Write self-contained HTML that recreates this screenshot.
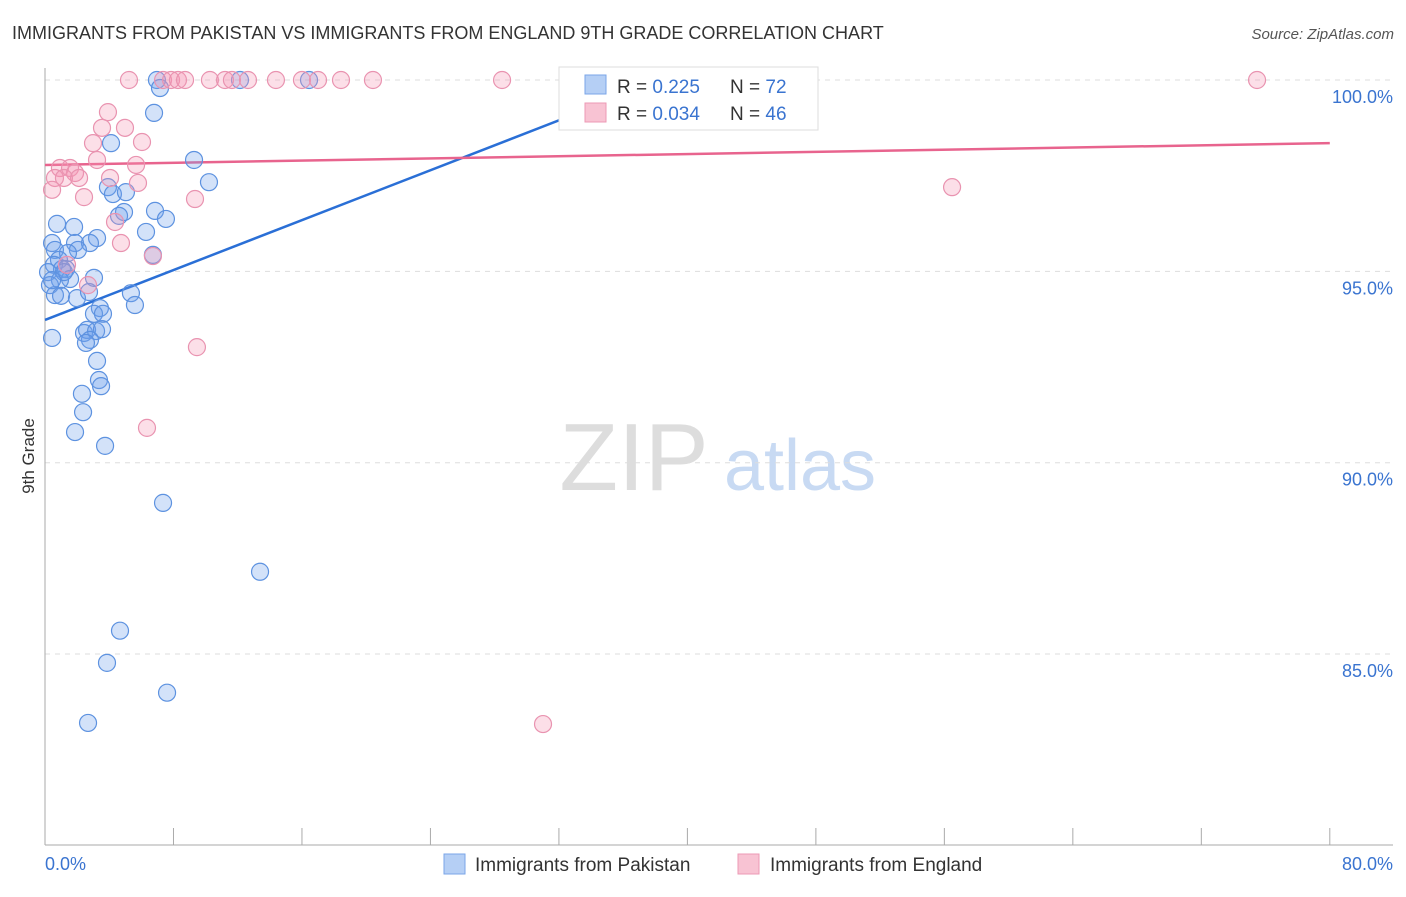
<!DOCTYPE html>
<html><head><meta charset="utf-8"><style>
body{margin:0;background:#fff;font-family:"Liberation Sans",sans-serif}
svg text{font-family:"Liberation Sans",sans-serif}
</style></head><body>
<svg id="chart" width="1406" height="892" viewBox="0 0 1406 892">
<text x="12" y="39" font-size="18" fill="#333">IMMIGRANTS FROM PAKISTAN VS IMMIGRANTS FROM ENGLAND 9TH GRADE CORRELATION CHART</text>
<text x="1394" y="39" font-size="15" fill="#555" text-anchor="end" font-style="italic">Source: ZipAtlas.com</text>
<g>
<text x="634" y="490" font-size="96" fill="#ddd" text-anchor="middle" font-family="Liberation Serif,serif">ZIP</text>
<text x="800" y="490" font-size="72" fill="#c8daf3" text-anchor="middle">atlas</text>
</g>
<g id="grid"></g>
<g id="axes"></g>
<g id="lines"></g>
<g id="pts"></g>
<text transform="translate(34,456) rotate(-90)" font-size="17" fill="#333" text-anchor="middle">9th Grade</text>
<g>
<rect x="559" y="67" width="259" height="63" fill="#fff" stroke="#ddd"/>
<rect x="585" y="75" width="21" height="19" fill="#b5cff5" stroke="#7aa6e8"/>
<rect x="585" y="103" width="21" height="19" fill="#f8c3d3" stroke="#ec9ab4"/>
<text x="617" y="93" font-size="19" fill="#333">R = <tspan fill="#3a74d0">0.225</tspan></text>
<text x="730" y="93" font-size="19" fill="#333">N = <tspan fill="#3a74d0">72</tspan></text>
<text x="617" y="120" font-size="19" fill="#333">R = <tspan fill="#3a74d0">0.034</tspan></text>
<text x="730" y="120" font-size="19" fill="#333">N = <tspan fill="#3a74d0">46</tspan></text>
</g>
<g>
<rect x="444" y="854" width="21" height="20" fill="#b5cff5" stroke="#7aa6e8"/>
<text x="475" y="871" font-size="19" fill="#333">Immigrants from Pakistan</text>
<rect x="738" y="854" width="21" height="20" fill="#f8c3d3" stroke="#ec9ab4"/>
<text x="770" y="871" font-size="19" fill="#333">Immigrants from England</text>
</g>
</svg>
<script>
const yTicks=[100,95,90,85];
const yTickLabels=["100.0%","95.0%","90.0%","85.0%"];
const xTicks=[0,8,16,24,32,40,48,56,64,72,80];
const xEndLabels=["0.0%","80.0%"];
const pakX=[6.97,7.16,16.44,12.14,6.79,4.11,9.28,10.21,3.92,4.23,5.04,6.85,7.53,4.92,4.61,6.29,0.75,1.81,0.44,3.24,1.87,2.80,0.62,2.05,1.43,0.87,0.56,1.06,1.31,0.19,1.56,0.93,0.31,0.62,1.00,1.99,2.74,5.35,3.42,5.60,3.05,3.61,0.44,2.43,2.62,3.18,3.55,2.80,2.55,3.24,3.36,3.49,2.30,2.37,1.87,3.74,7.35,13.39,4.67,3.86,7.60,2.68,6.72,1.18,0.44,3.05];
const pakY=[100,99.79,100,100,99.14,98.35,97.91,97.33,97.20,97.02,97.07,96.58,96.37,96.55,96.45,96.03,96.24,96.16,95.74,95.87,95.74,95.74,95.56,95.56,95.48,95.30,95.17,95.06,95.06,94.98,94.80,94.77,94.64,94.38,94.36,94.30,94.46,94.43,94.04,94.12,93.89,93.89,93.26,93.39,93.47,93.44,93.49,93.21,93.13,92.66,92.16,92.00,91.80,91.32,90.80,90.44,88.95,87.15,85.61,84.77,83.99,83.20,95.43,94.98,94.77,94.83];
const engX=[5.23,7.35,7.85,8.28,8.72,10.27,11.21,11.64,12.64,14.38,16.00,17.00,18.43,20.42,28.46,32.88,75.47,3.92,3.55,4.98,2.99,6.04,3.24,5.67,0.93,1.56,1.87,0.62,1.18,2.12,4.05,5.79,0.44,2.43,9.34,4.36,4.73,6.72,2.68,9.46,6.35,31.01,56.48,1.37];
const engY=[100,100,100,100,100,100,100,100,100,100,100,100,100,100,100,100,100,99.16,98.75,98.75,98.35,98.38,97.91,97.78,97.70,97.70,97.57,97.44,97.44,97.44,97.44,97.31,97.13,96.94,96.89,96.29,95.74,95.40,94.64,93.02,90.91,83.17,97.20,95.17];
const pakTrend=[93.73,99.87*0+93.73+0.163*80];
const engTrend=[97.78,98.35];
const pakTrendEndX=37.7;

const NS="http://www.w3.org/2000/svg";
const X=v=>45+v*16.06;
const Y=v=>80+(100-v)*38.27;
function mk(tag,attrs,parent){const e=document.createElementNS(NS,tag);for(const k in attrs)e.setAttribute(k,attrs[k]);document.getElementById(parent).appendChild(e);return e;}
yTicks.forEach((t,i)=>{
  const l=mk('line',{x1:45,x2:1393,y1:Y(t),y2:Y(t),stroke:'#ddd','stroke-dasharray':'5,5'},'grid');
  
  
  const tx=mk('text',{x:1393,y:Y(t)+23,'font-size':18,fill:'#3a74d0','text-anchor':'end'},'grid');
  tx.textContent=yTickLabels[i];
  
  
});
const ax=mk('line',{x1:45,x2:45,y1:68,y2:845,stroke:'#aaa'},'axes');


const bx=mk('line',{x1:45,x2:1393,y1:845,y2:845,stroke:'#aaa'},'axes');


xTicks.forEach(t=>{
  const l=mk('line',{x1:X(t),x2:X(t),y1:828,y2:845,stroke:'#aaa'},'axes');
  
  
});
[[0,'start'],[80,'end']].forEach((p,i)=>{
  const tx=mk('text',{x:i?1393:45,y:870,'font-size':18,fill:'#3a74d0','text-anchor':p[1]},'axes');
  tx.textContent=xEndLabels[i];
  
  
});
function dots(xs,ys,fill,stroke,name){
  xs.forEach((x,i)=>{
    const c=mk('circle',{cx:X(x),cy:Y(ys[i]),r:8.5,fill:fill,stroke:stroke,'stroke-width':1.2},'pts');
    
    
  });
}
dots(pakX,pakY,'rgba(110,160,235,0.3)','#5d92e0','point-pakistan');
dots(engX,engY,'rgba(245,150,180,0.3)','#e993b0','point-england');
const slope=(pakTrend[1]-pakTrend[0])/80;
const pl=mk('line',{x1:X(0),y1:Y(pakTrend[0]),x2:X(pakTrendEndX),y2:Y(pakTrend[0]+slope*pakTrendEndX),stroke:'#2a6fd6','stroke-width':2.5},'lines');


const el=mk('line',{x1:X(0),y1:Y(engTrend[0]),x2:X(80),y2:Y(engTrend[1]),stroke:'#e8648e','stroke-width':2.5},'lines');


</script>
</body></html>
